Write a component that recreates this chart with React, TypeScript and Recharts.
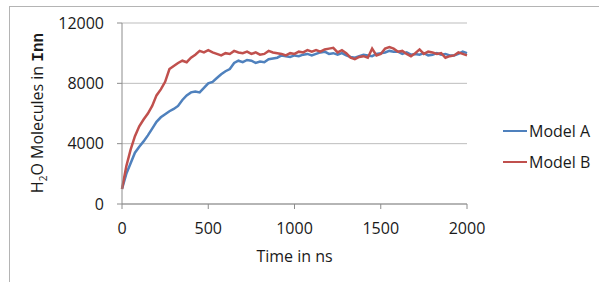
import { LineChart, Line, XAxis, YAxis, CartesianGrid, Legend } from "recharts";

const times = Array.from({ length: 81 }, (_, i) => i * 25);

const modelA = [
  1000, 2000, 2700, 3400, 3800, 4150, 4550, 5000, 5450, 5750,
  5950, 6150, 6300, 6500, 6900, 7200, 7400, 7450, 7400, 7700,
  8000, 8100, 8350, 8600, 8800, 8950, 9350, 9500, 9400, 9550,
  9500, 9350, 9450, 9400, 9600, 9650, 9700, 9850, 9800, 9750,
  9850, 9800, 9900, 9950, 9850, 9950, 10050, 10100, 9950, 10000,
  9900, 10000, 9850, 9750, 9700, 9800, 9900, 9850, 9800, 9950,
  10000, 10050, 10150, 10100, 10100, 9950, 10050, 9900, 9950, 9900,
  10000, 9850, 9900, 10000, 9900, 9950, 9850, 9850, 9950, 10100,
  10000,
];

const modelB = [
  1000, 2500, 3600, 4500, 5150, 5600, 6000, 6500, 7200, 7600,
  8100, 8950, 9150, 9350, 9500, 9400, 9700, 9900, 10150, 10050,
  10200, 10050, 9950, 9850, 10000, 9950, 10150, 10050, 10000, 10100,
  9950, 10050, 9900, 9950, 10150, 10050, 10000, 9950, 9850, 10000,
  9950, 10100, 10050, 10200, 10100, 10200, 10100, 10250, 10300, 10350,
  10050, 10200, 10000, 9700, 9600, 9750, 9800, 9700, 10300, 9850,
  9950, 10300, 10400, 10300, 10100, 10150, 9950, 9800, 10000, 10250,
  9950, 10100, 10050, 9950, 10000, 9700, 9800, 9850, 10050, 9950,
  9850,
];

const xTicks = [0, 500, 1000, 1500, 2000];
const yTicks = [0, 4000, 8000, 12000];

const rows = times.map((t, i) => ({ t, a: modelA[i], b: modelB[i] }));

const FONT = "'Open Sans', sans-serif";
const BLUE = "#4F81BD";
const RED = "#C0504D";
const INK = "#1a1a1a";

function LegendBox() {
  const items = [
    { name: "Model A", color: BLUE },
    { name: "Model B", color: RED },
  ];
  return (
    <div style={{ fontFamily: FONT, fontSize: 16, color: INK }}>
      {items.map((it) => (
        <div key={it.name} style={{ display: "flex", alignItems: "center", height: 31 }}>
          <span style={{ display: "inline-block", width: 24, height: 2, background: it.color, marginRight: 2 }} />
          <span>{it.name}</span>
        </div>
      ))}
    </div>
  );
}

export default function App() {
  return (
    <div style={{ position: "absolute", left: 0, top: 0, width: 599, height: 282, background: "#fff" }}>
      <div
        style={{
          position: "absolute",
          left: 9,
          top: 6,
          width: 590,
          height: 276,
          borderTop: "1px solid #b4b4b4",
          borderLeft: "1px solid #b4b4b4",
        }}
      />
      <LineChart width={599} height={282} data={rows} margin={{ top: 23, right: 132, bottom: 38, left: 52 }}>
        <CartesianGrid vertical={false} stroke="#bdbdbd" />
        <XAxis
          dataKey="t"
          type="number"
          domain={[0, 2000]}
          ticks={xTicks}
          tickSize={5}
          tickMargin={14}
          height={40}
          stroke="#8c8c8c"
          tick={{ fill: INK, fontSize: 16, fontFamily: FONT }}
          label={(p: any) => (
            <text x={p.viewBox.x + p.viewBox.width / 2} y={262} textAnchor="middle" fill={INK} fontSize={16} fontFamily={FONT}>
              Time in ns
            </text>
          )}
        />
        <YAxis
          type="number"
          domain={[0, 12000]}
          ticks={yTicks}
          tickSize={5}
          tickMargin={13}
          width={70}
          stroke="#8c8c8c"
          tick={{ fill: INK, fontSize: 16, fontFamily: FONT }}
          label={() => (
            <text transform="translate(43,113) rotate(-90)" textAnchor="middle" fill={INK} fontSize={16} fontFamily={FONT}>
              <tspan>H</tspan>
              <tspan fontSize={10} dy={4}>2</tspan>
              <tspan dy={-4}>O Molecules in </tspan>
              <tspan fontFamily="'Liberation Mono', monospace" fontWeight="bold">Inn</tspan>
            </text>
          )}
        />
        <Legend
          layout="vertical"
          align="center"
          verticalAlign="middle"
          wrapperStyle={{ left: 503, top: 115, width: 96 }}
          content={() => <LegendBox />}
        />
        <Line type="linear" dataKey="a" name="Model A" stroke={BLUE} strokeWidth={2.5} dot={false} isAnimationActive={false} />
        <Line type="linear" dataKey="b" name="Model B" stroke={RED} strokeWidth={2.5} dot={false} isAnimationActive={false} />
      </LineChart>
    </div>
  );
}
